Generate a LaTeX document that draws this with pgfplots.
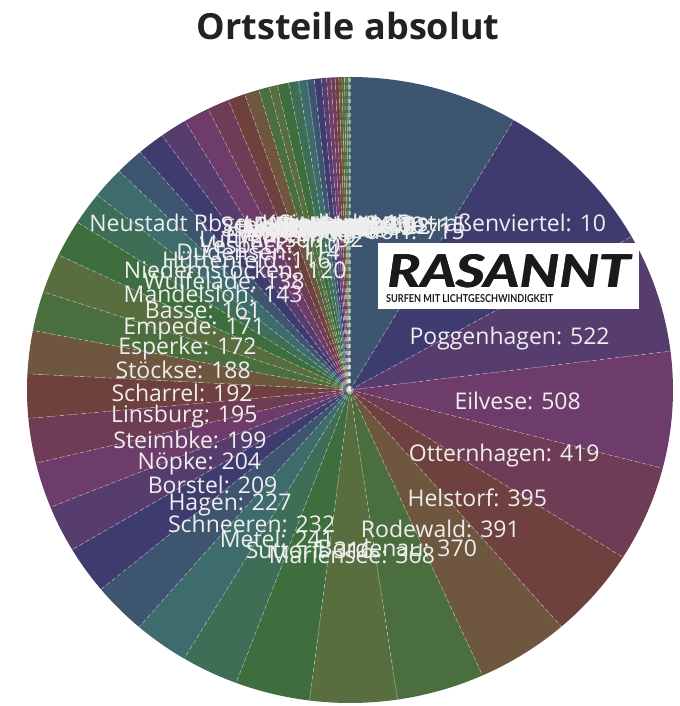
\documentclass[border=0pt]{standalone}
\usepackage{pgfplots}
\pgfplotsset{compat=1.18}
\usepackage{pgfplotstable}
\usetikzlibrary{calc}
\usepackage{graphicx}
\usepackage{fontspec}
\setmainfont{Open Sans}
\newfontfamily\titlefont{Open Sans}
\newfontfamily\logofont{Lato}
\definecolor{c0}{HTML}{3D556E}
\definecolor{c1}{HTML}{3E3C6E}
\definecolor{c2}{HTML}{573C6E}
\definecolor{c3}{HTML}{6E3C6A}
\definecolor{c4}{HTML}{6E3C55}
\definecolor{c5}{HTML}{6E403E}
\definecolor{c6}{HTML}{6E573E}
\definecolor{c7}{HTML}{4B6E3E}
\definecolor{c8}{HTML}{586E3E}
\definecolor{c9}{HTML}{3E6E3E}
\definecolor{c10}{HTML}{3E6E55}
\definecolor{c11}{HTML}{3E6B6B}
\definecolor{titlecol}{HTML}{222222}
\definecolor{labcol}{HTML}{EEEEEE}
\definecolor{logocol}{HTML}{1A1A1A}

\pgfplotstableread[col sep=semicolon]{
name;value
Mardorf;715
Hope;710
Poggenhagen;522
Eilvese;508
Otternhagen;419
Helstorf;395
Rodewald;391
Bordenau;370
Mariensee;368
Suttorf;316
Metel;241
Schneeren;232
Hagen;227
Borstel;209
Nöpke;204
Steimbke;199
Linsburg;195
Scharrel;192
Stöckse;188
Esperke;172
Empede;171
Basse;161
Mandelsloh;143
Wulfelade;138
Niedernstöcken;120
Hüttenfeld;116
Dudensen;114
Vesbeck;110
Luttmersen;92
Evensen;73
Büren;61
Averhoy;45
Amedorf;35
Laderholz;48
Lutter;42
Himmelreich;35
Welze;31
Brase;30
Mecklenhorst;22
Bullenbruch;19
Moordorf;17
Schneerener Heide;15
Siedlung;13
Bevensen;11
Neustadt Rbge. Kernstadt Leinstraßenviertel;10
Viertel;7
Nord;4
Ost;2
}\data

\begin{document}
\begin{tikzpicture}
\begin{axis}[hide axis, scale only axis, width=680bp, height=706bp,
  xmin=0, xmax=680, ymin=0, ymax=706, clip=false]
\addplot[draw=none, mark=none] coordinates {(0,0) (680,706)};
\pgfplotsextra{
  \pgfplotstablegetrowsof{\data}
  \pgfmathtruncatemacro\nrows{\pgfplotsretval-1}
  \xdef\tot{0}
  \foreach \i in {0,...,\nrows}{
    \pgfplotstablegetelem{\i}{value}\of\data
    \pgfmathsetmacro\t{\tot+\pgfplotsretval}\xdef\tot{\t}
  }
  % slices
  \xdef\cum{0}
  \foreach \i in {0,...,\nrows}{
    \pgfplotstablegetelem{\i}{value}\of\data
    \let\v\pgfplotsretval
    \pgfmathsetmacro\a{90-360*(\cum/\tot)}
    \pgfmathsetmacro\b{90-360*((\cum+\v)/\tot)}
    \pgfmathtruncatemacro\ci{mod(\i,12)}
    \fill[c\ci] (axis cs:350,316) -- ++(\a:323bp and 313bp)
      arc[start angle=\a, end angle=\b, x radius=323bp, y radius=313bp] -- cycle;
    \pgfmathsetmacro\c{\cum+\v}\xdef\cum{\c}
  }
  % separators
  \xdef\cum{0}
  \foreach \i in {0,...,\nrows}{
    \pgfplotstablegetelem{\i}{value}\of\data
    \let\v\pgfplotsretval
    \pgfmathsetmacro\a{90-360*(\cum/\tot)}
    \draw[white, opacity=0.45, line width=0.6bp, dash pattern=on 4bp off 3bp]
      (axis cs:350,316) -- ++(\a:323bp and 313bp);
    \pgfmathsetmacro\c{\cum+\v}\xdef\cum{\c}
  }
  % labels
  \xdef\cum{0}
  \foreach \i in {0,...,\nrows}{
    \pgfplotstablegetelem{\i}{value}\of\data
    \let\v\pgfplotsretval
    \pgfplotstablegetelem{\i}{name}\of\data
    \let\nm\pgfplotsretval
    \pgfmathsetmacro\m{90-360*((\cum+0.5*\v)/\tot)}
    \node[text=labcol, inner sep=0pt, font=\fontsize{23bp}{25bp}\selectfont]
      at ($(axis cs:350,316)+(\m:168bp and 165bp)$) {\nm: \v};
    \pgfmathsetmacro\c{\cum+\v}\xdef\cum{\c}
  }
  % logo
  \fill[white] (axis cs:378,397) rectangle (axis cs:639,463);
  \foreach \dx in {0,0.7,1.4}{
    \node[anchor=south west, inner sep=0pt, text=logocol] at ($(axis cs:387,418)+(\dx bp,0)$)
      {\resizebox{242bp}{33bp}{\logofont\bfseries\itshape RASANNT}};
  }
  \node[anchor=south west, inner sep=0pt, text=logocol] at (axis cs:386,403)
    {\resizebox{167bp}{8bp}{\logofont\bfseries SURFEN MIT LICHTGESCHWINDIGKEIT}};
}
\node[text=titlecol, font=\titlefont\bfseries\fontsize{36bp}{40bp}\selectfont]
  at (axis cs:348,680) {Ortsteile absolut};
\end{axis}
\end{tikzpicture}
\end{document}
